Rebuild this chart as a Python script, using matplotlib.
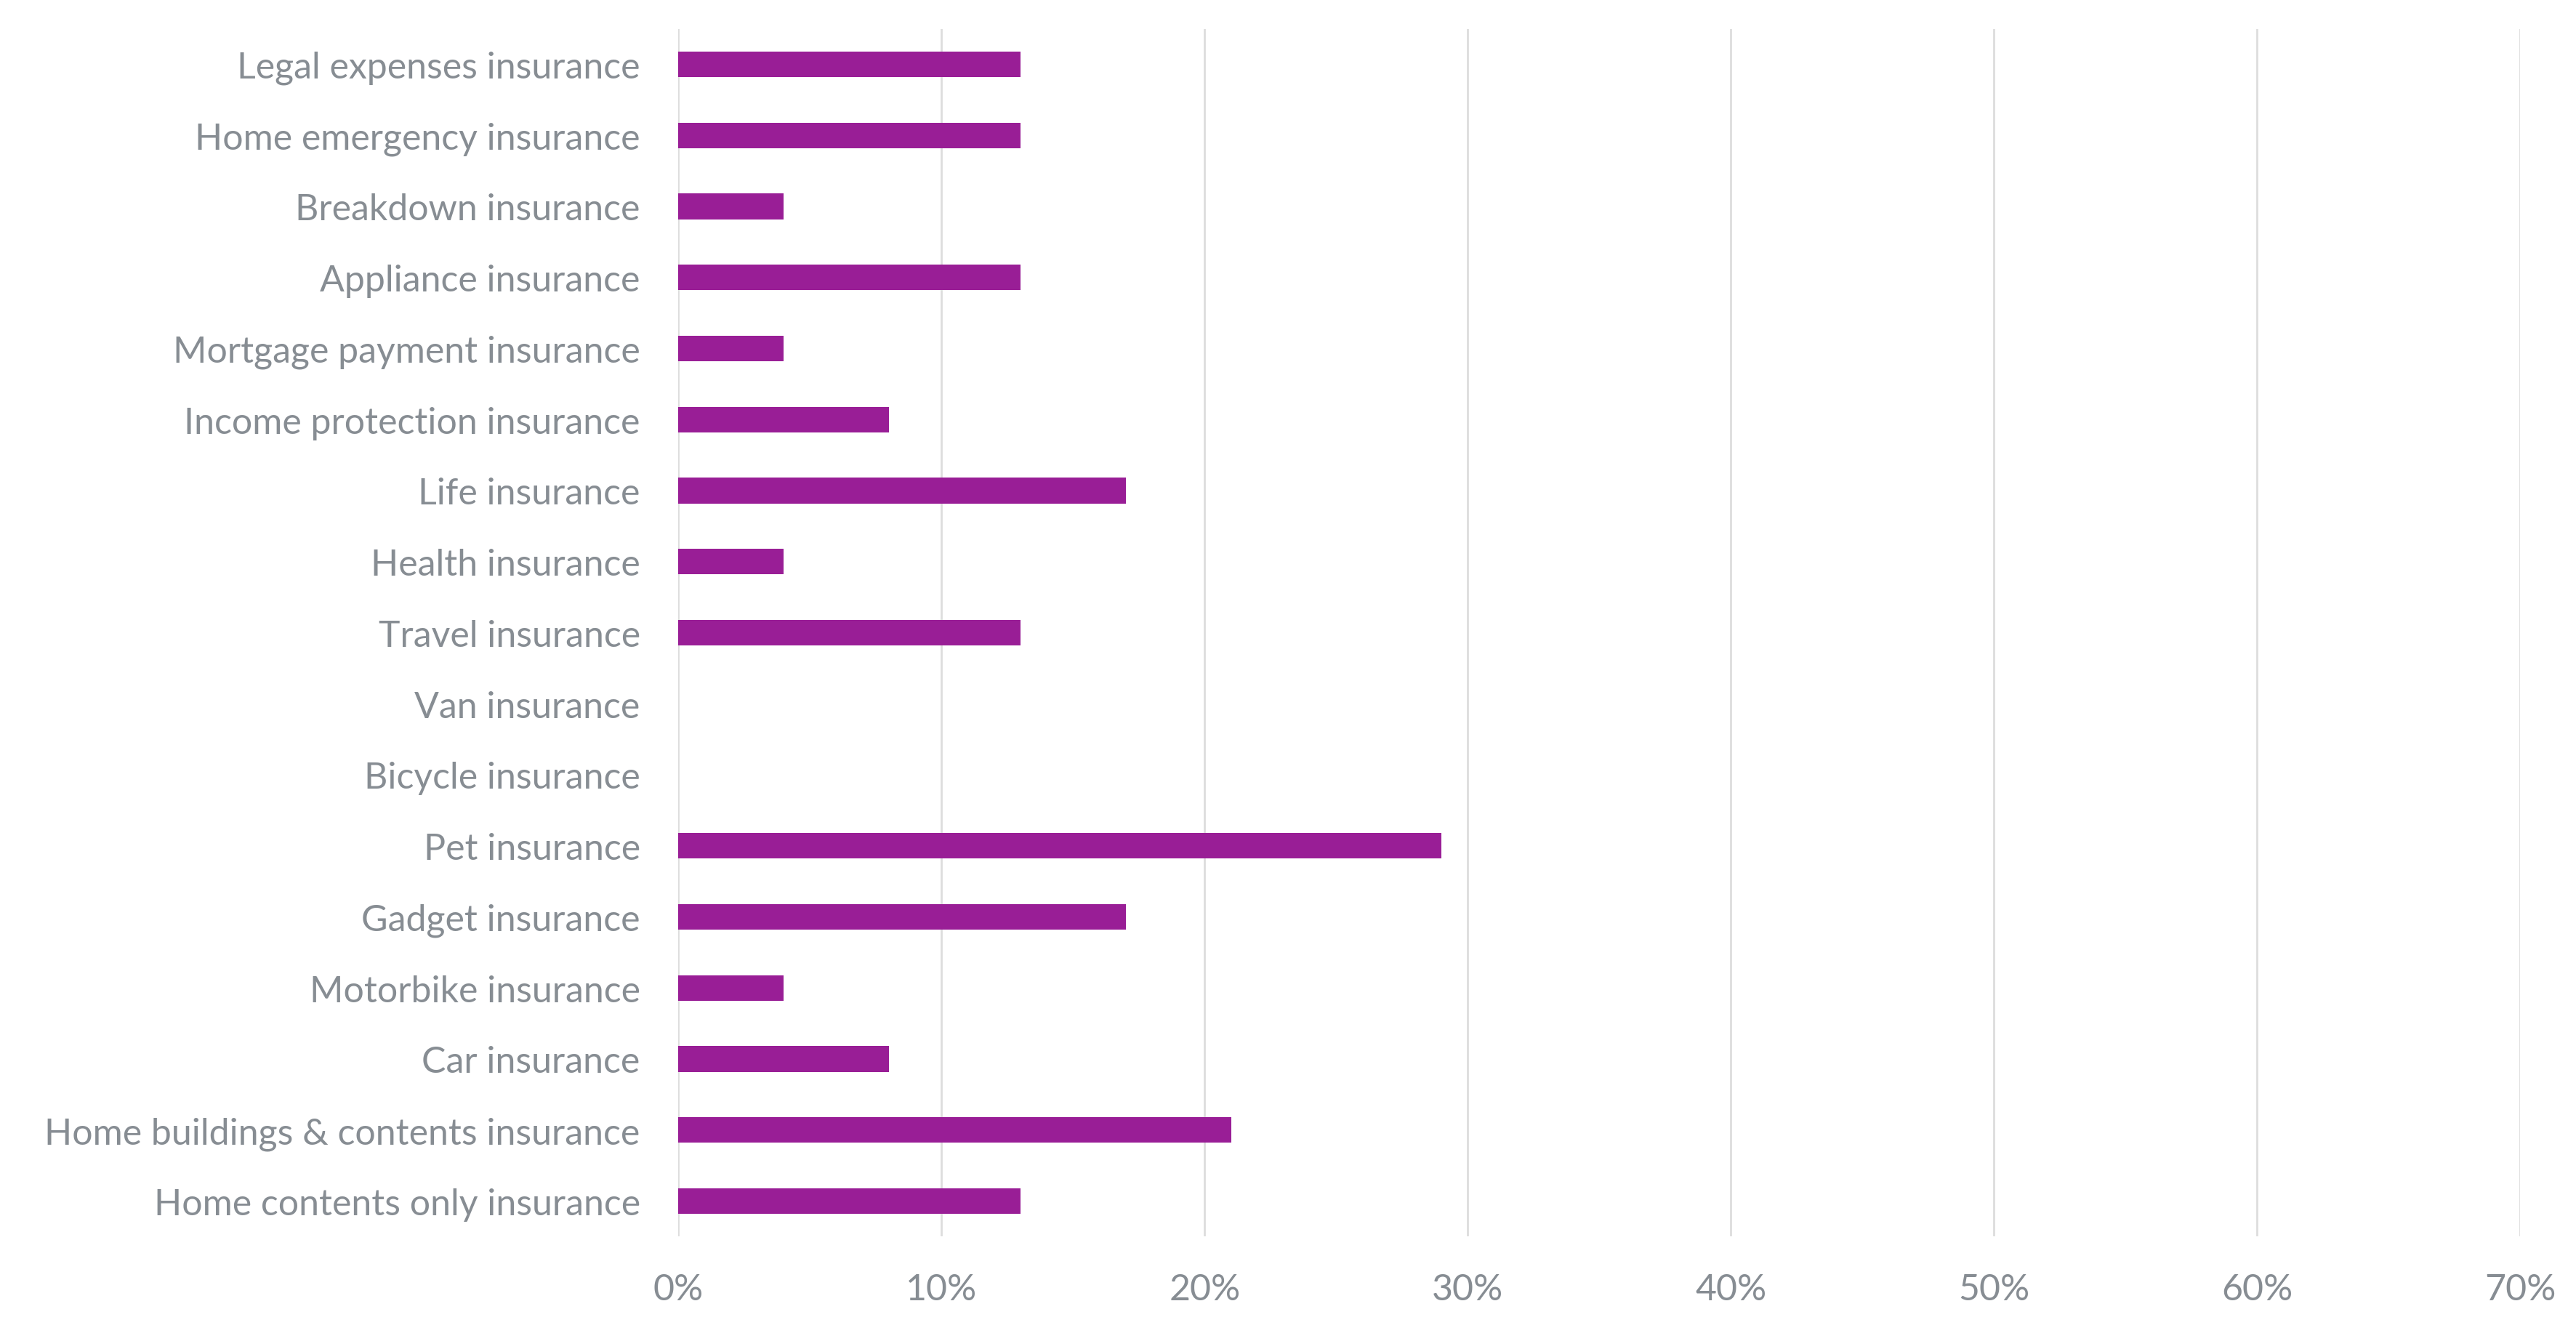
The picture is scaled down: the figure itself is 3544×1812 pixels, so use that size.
import matplotlib
matplotlib.use("Agg")
import matplotlib.pyplot as plt
from matplotlib.ticker import FuncFormatter, MultipleLocator

categories = [
    "Home contents only insurance",
    "Home buildings & contents insurance",
    "Car insurance",
    "Motorbike insurance",
    "Gadget insurance",
    "Pet insurance",
    "Bicycle insurance",
    "Van insurance",
    "Travel insurance",
    "Health insurance",
    "Life insurance",
    "Income protection insurance",
    "Mortgage payment insurance",
    "Appliance insurance",
    "Breakdown insurance",
    "Home emergency insurance",
    "Legal expenses insurance",
]
values = [13, 21, 8, 4, 17, 29, 0, 0, 13, 4, 17, 8, 4, 13, 4, 13, 13]

BAR = "#991E96"
TXT = "#878D93"
GRID = "#DDDDDD"

plt.rcParams['font.family'] = ['Lato', 'DejaVu Sans']

fig = plt.figure(figsize=(17.72, 9.064), dpi=200)
ax = fig.add_axes([0.2634, 0.0610, 0.9783 - 0.2634, 0.9777 - 0.0610])

y = list(range(len(categories)))
ax.barh(y, values, height=0.36, color=BAR, zorder=3)

ax.set_xlim(0, 70)
ax.set_ylim(-0.5, len(categories) - 0.5)
ax.set_yticks(y)
ax.set_yticklabels(categories)
ax.xaxis.set_major_locator(MultipleLocator(10))
ax.xaxis.set_major_formatter(FuncFormatter(lambda v, p: f"{int(round(v))}%"))

ax.grid(axis='x', color=GRID, linewidth=1.0, zorder=0)
ax.grid(axis='y', visible=False)
for s in ax.spines.values():
    s.set_visible(False)

ax.tick_params(axis='both', length=0, colors=TXT, labelsize=18)
ax.tick_params(axis='y', pad=19)
ax.tick_params(axis='x', pad=18)
for lab in ax.get_xticklabels() + ax.get_yticklabels():
    lab.set_fontweight('normal')
    lab.set_color(TXT)

fig.savefig("out.png", dpi=200, facecolor="white")
